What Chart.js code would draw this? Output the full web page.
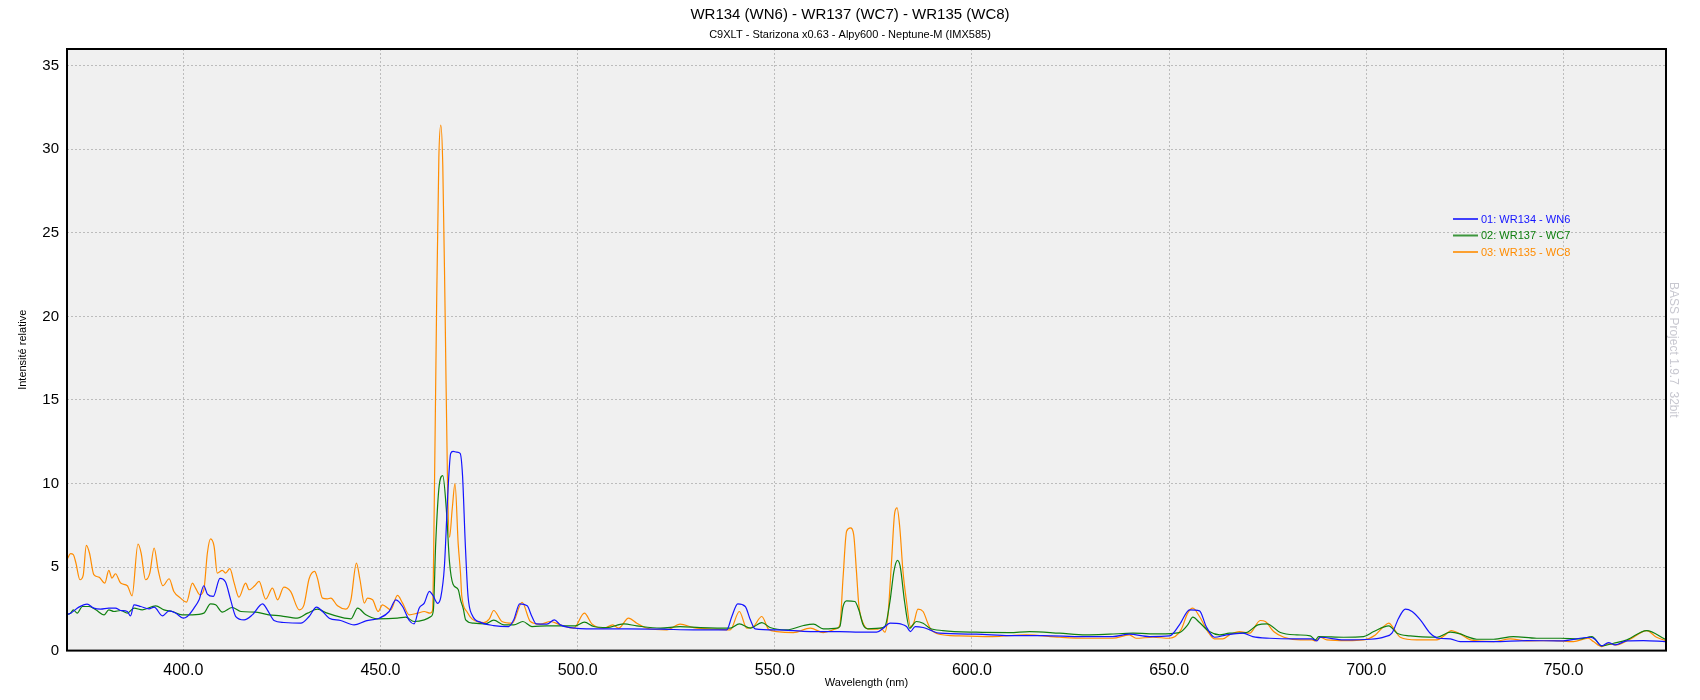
<!DOCTYPE html>
<html lang="fr">
<head>
<meta charset="UTF-8">
<title>WR134 - WR137 - WR135</title>
<script src="https://cdn.jsdelivr.net/npm/chart.js"></script>
<style>
  body { margin: 0; background: #ffffff; }
  #wrap { width: 1700px; height: 700px; }
</style>
</head>
<body>
<div id="wrap"><canvas id="spectre" width="1700" height="700"></canvas></div>
<script>
// --- data ---
const chartTitle = 'WR134 (WN6) - WR137 (WC7) - WR135 (WC8)';
const chartSubtitle = 'C9XLT - Starizona x0.63 - Alpy600 - Neptune-M (IMX585)';
const watermark = 'BASS Project 1.9.7  32bit';
const seriesNames = ['01: WR134 - WN6', '02: WR137 - WC7', '03: WR135 - WC8'];
const xTickValues = [400, 450, 500, 550, 600, 650, 700, 750];
const yTickValues = [0, 5, 10, 15, 20, 25, 30, 35];

// WR134 - WN6 (blue)
const wn6Nm = [370.0, 371.4, 373.5, 375.6, 377.3, 379.0, 381.1, 382.8, 384.1, 385.8, 386.6, 387.5, 389.2, 391.3, 392.6, 394.7, 396.4, 398.1,
  400.0, 401.0, 402.7, 404.0, 405.2, 406.1, 407.6, 409.3, 410.7, 412.0, 413.3, 415.4, 417.5, 420.1, 421.3, 423.0, 425.5, 429.8,
  431.9, 433.8, 435.3, 437.0, 439.9, 443.3, 446.3, 449.7, 452.2, 453.9, 455.6, 457.3, 458.5, 459.8, 461.1, 462.4, 463.3, 464.5,
  465.3, 466.2, 467.1, 467.8, 468.4, 469.3, 470.2, 470.8, 471.5, 472.2, 473.3, 475.4, 478.7, 482.5, 483.8, 485.3, 487.2, 488.4,
  489.5, 492.2, 494.1, 495.6, 498.1, 504.1, 512.5, 521.0, 529.4, 537.8, 539.1, 540.6, 542.5, 543.8, 545.0, 550.5, 559.0, 566.5,
  571.5, 575.8, 577.5, 579.2, 582.1, 583.4, 584.4, 585.6, 587.6, 589.3, 591.7, 601.0, 609.5, 617.9, 628.1, 635.7, 639.9, 645.0,
  650.1, 652.6, 655.2, 657.7, 659.4, 661.5, 664.5, 668.7, 671.2, 675.5, 681.6, 686.2, 687.5, 688.3, 694.3, 701.0, 704.8, 706.5,
  708.2, 709.9, 711.6, 713.7, 716.2, 718.3, 721.3, 723.8, 732.3, 740.7, 749.2, 756.8, 758.0, 759.7, 761.4, 763.1, 766.1, 770.3, 775.8];
const wn6Rel = [2.14, 2.24, 2.6, 2.78, 2.54, 2.48, 2.54, 2.54, 2.4, 2.34, 2.08, 2.74, 2.64, 2.5, 2.6, 2.08, 2.38, 2.24,
  1.94, 2.04, 2.54, 3.04, 3.88, 3.38, 3.24, 4.32, 4.1, 3.04, 2.04, 1.84, 2.14, 2.8, 2.44, 1.8, 1.68, 1.64,
  2.04, 2.6, 2.34, 1.94, 1.8, 1.54, 1.78, 1.94, 2.34, 3.04, 2.64, 1.8, 1.6, 2.54, 2.84, 3.55, 3.3, 2.83,
  3.2, 5.0, 9.5, 11.8, 11.92, 11.88, 11.8, 10.5, 6.4, 3.25, 2.1, 1.69, 1.5, 1.44, 1.84, 2.8, 2.68, 2.04,
  1.6, 1.58, 1.84, 1.54, 1.38, 1.3, 1.3, 1.28, 1.24, 1.24, 2.04, 2.8, 2.64, 1.84, 1.3, 1.24, 1.14, 1.14,
  1.1, 1.1, 1.34, 1.64, 1.58, 1.44, 1.14, 1.44, 1.38, 1.24, 1.04, 0.98, 0.9, 0.9, 0.84, 0.84, 0.98, 0.84,
  0.88, 1.54, 2.44, 2.38, 1.44, 0.8, 0.94, 1.04, 0.84, 0.74, 0.7, 0.7, 0.58, 0.8, 0.64, 0.68, 0.84, 1.04,
  1.94, 2.48, 2.34, 1.84, 1.04, 0.74, 0.7, 0.54, 0.54, 0.6, 0.58, 0.8, 0.68, 0.28, 0.48, 0.34, 0.58, 0.6, 0.54];

// WR137 - WC7 (green)
const wc7Nm = [370.0, 371.4, 372.1, 373.1, 374.4, 376.1, 377.8, 379.9, 381.1, 382.4, 384.1, 385.8, 387.5, 389.6, 393.0, 395.1, 397.2, 399.7,
  402.3, 405.2, 406.9, 408.2, 409.9, 412.4, 414.6, 418.4, 421.7, 424.7, 428.9, 431.5, 434.0, 436.5, 439.9, 442.5, 444.2, 446.3,
  449.2, 454.3, 456.4, 458.5, 461.1, 462.8, 463.4, 464.0, 464.9, 465.8, 466.7, 467.5, 468.4, 469.7, 470.3, 471.0, 471.6, 473.6,
  476.6, 478.7, 481.3, 483.8, 486.1, 488.4, 492.2, 499.4, 501.7, 504.1, 507.4, 511.7, 515.0, 521.0, 526.0, 531.1, 538.7, 541.0,
  543.8, 546.7, 548.8, 553.0, 557.3, 559.8, 562.3, 565.7, 566.5, 567.3, 568.2, 570.3, 571.3, 572.4, 573.6, 576.6, 577.9, 579.2,
  580.2, 581.1, 581.8, 582.9, 584.2, 585.9, 587.6, 589.3, 592.6, 601.0, 609.5, 614.6, 622.2, 628.9, 634.9, 640.8, 647.5, 652.6,
  654.7, 656.0, 657.7, 660.2, 662.8, 665.3, 669.5, 672.5, 674.8, 678.2, 682.4, 685.8, 687.1, 687.9, 694.3, 699.3, 701.9, 705.7,
  707.8, 711.1, 717.9, 721.3, 723.8, 725.5, 728.0, 732.3, 737.3, 743.2, 749.2, 754.2, 757.2, 759.7, 762.7, 766.1, 771.1, 775.8];
const wc7Rel = [2.14, 2.24, 2.44, 2.24, 2.64, 2.64, 2.44, 2.14, 2.44, 2.34, 2.4, 2.24, 2.54, 2.44, 2.68, 2.44, 2.34, 2.14,
  2.14, 2.24, 2.8, 2.74, 2.3, 2.58, 2.34, 2.3, 2.14, 2.08, 1.94, 2.24, 2.48, 2.24, 2.0, 1.9, 2.54, 2.14,
  1.9, 1.94, 2.0, 1.74, 1.84, 2.04, 2.4, 6.4, 9.9, 10.47, 8.45, 5.3, 3.97, 3.66, 3.04, 2.5, 1.84, 1.64,
  1.6, 1.82, 1.54, 1.54, 1.74, 1.44, 1.48, 1.48, 1.7, 1.44, 1.38, 1.6, 1.48, 1.34, 1.44, 1.38, 1.34, 1.6,
  1.34, 1.68, 1.38, 1.24, 1.5, 1.58, 1.3, 1.34, 1.44, 2.64, 2.98, 2.94, 2.44, 1.54, 1.3, 1.34, 1.44, 2.94,
  4.74, 5.4, 5.04, 2.94, 1.34, 1.74, 1.64, 1.34, 1.2, 1.1, 1.08, 1.14, 1.04, 0.94, 0.98, 1.04, 1.0, 1.08,
  1.54, 2.0, 1.68, 1.14, 0.94, 1.04, 1.08, 1.54, 1.6, 1.08, 0.94, 0.88, 0.64, 0.84, 0.8, 0.84, 1.14, 1.48,
  1.04, 0.88, 0.8, 1.1, 1.0, 0.84, 0.68, 0.68, 0.84, 0.74, 0.74, 0.7, 0.84, 0.28, 0.44, 0.64, 1.2, 0.68];

// WR135 - WC8 (orange)
const wc8Nm = [370.0, 370.6, 371.4, 372.1, 372.7, 373.8, 374.6, 375.4, 376.2, 377.3, 378.6, 380.1, 381.1, 381.9, 382.8, 384.1, 385.8, 387.0,
  388.5, 389.3, 390.4, 391.5, 392.6, 393.6, 394.8, 396.4, 397.6, 399.3, 400.8, 402.3, 403.1, 404.2, 405.2, 406.1, 406.9, 407.8,
  408.6, 409.9, 410.7, 411.8, 412.9, 414.1, 415.8, 416.7, 418.1, 419.2, 420.9, 422.6, 423.9, 425.5, 427.2, 429.4, 430.6, 431.9,
  433.3, 434.0, 435.3, 436.5, 437.4, 439.1, 441.2, 442.5, 443.9, 444.8, 445.9, 446.7, 448.0, 449.4, 450.5, 452.6, 454.3, 455.6,
  457.3, 459.4, 461.1, 462.6, 463.2, 463.6, 464.2, 464.8, 465.3, 465.8, 466.4, 467.0, 467.5, 468.2, 468.9, 469.7, 470.3, 470.6,
  472.0, 473.2, 475.0, 476.2, 477.6, 478.7, 480.8, 483.4, 485.9, 488.0, 490.5, 493.1, 495.6, 499.0, 501.7, 503.6, 506.6, 508.9,
  510.4, 512.9, 515.0, 517.6, 522.6, 526.0, 529.4, 534.5, 538.7, 541.0, 542.9, 544.6, 546.7, 548.4, 550.5, 554.7, 559.0, 562.3,
  565.5, 566.5, 567.3, 568.2, 569.2, 570.0, 570.7, 571.3, 572.4, 573.6, 575.8, 577.0, 577.9, 578.7, 579.6, 580.4, 581.0, 581.7,
  582.5, 583.4, 584.4, 585.2, 586.3, 587.6, 588.8, 589.5, 591.7, 596.8, 605.2, 613.7, 622.2, 628.9, 635.7, 639.9, 641.6, 645.9,
  650.1, 653.0, 654.7, 656.0, 657.7, 659.8, 661.5, 663.6, 665.3, 667.8, 670.4, 673.1, 674.4, 676.5, 679.1, 683.3, 686.2, 687.1,
  688.3, 690.0, 695.1, 699.3, 702.3, 704.4, 705.7, 706.9, 708.6, 712.8, 717.9, 720.0, 721.5, 723.8, 726.4, 732.3, 736.5, 740.7,
  747.5, 752.5, 756.3, 757.6, 759.7, 761.4, 763.5, 766.9, 771.1, 773.6, 775.8];
const wc8Rel = [5.34, 5.5, 5.8, 5.74, 5.3, 4.24, 4.5, 6.3, 5.84, 4.54, 4.4, 4.04, 4.8, 4.34, 4.6, 4.04, 3.88, 3.28,
  6.38, 5.84, 4.24, 4.64, 6.14, 4.84, 3.88, 4.3, 3.54, 3.14, 2.9, 4.04, 3.74, 3.34, 3.64, 5.84, 6.68, 6.24,
  4.64, 4.8, 4.64, 4.9, 4.04, 3.2, 4.04, 3.64, 3.88, 4.14, 3.08, 3.74, 3.04, 3.8, 3.54, 2.44, 2.74, 4.3,
  4.74, 4.34, 3.14, 3.1, 3.14, 2.68, 2.48, 3.04, 5.24, 4.24, 2.84, 3.14, 3.04, 2.34, 2.74, 2.44, 3.3, 2.84,
  2.14, 2.24, 2.34, 2.24, 2.4, 8.0, 20.0, 29.5, 31.44, 29.0, 20.0, 10.0, 6.78, 8.5, 10.0, 6.4, 4.6, 3.3,
  2.3, 1.9, 1.7, 1.68, 1.9, 2.4, 1.74, 1.64, 2.88, 1.74, 1.58, 1.74, 1.54, 1.34, 2.24, 1.6, 1.34, 1.54,
  1.34, 1.94, 1.64, 1.34, 1.24, 1.58, 1.38, 1.28, 1.24, 2.34, 1.34, 1.44, 2.04, 1.28, 1.14, 1.08, 1.34, 1.08,
  1.3, 1.54, 4.34, 7.14, 7.34, 6.94, 4.74, 2.74, 1.64, 1.3, 1.28, 1.34, 1.1, 2.14, 5.34, 8.24, 8.54, 7.34,
  4.74, 2.94, 1.44, 1.64, 2.48, 2.34, 1.64, 1.3, 0.98, 0.88, 0.84, 0.94, 0.8, 0.74, 0.74, 0.94, 0.74, 0.8,
  0.74, 1.24, 2.24, 2.54, 2.04, 1.14, 0.7, 0.7, 0.94, 1.14, 1.04, 1.8, 1.74, 1.14, 0.8, 0.64, 0.64, 0.58,
  0.8, 0.64, 0.6, 0.64, 0.94, 1.44, 1.64, 1.34, 0.8, 0.64, 0.64, 0.94, 1.2, 1.0, 0.64, 0.54, 0.7, 0.58,
  0.6, 0.54, 0.74, 0.54, 0.24, 0.4, 0.34, 0.68, 1.2, 0.8, 0.6];

const seriesColors = ['#1414ff', '#108010', '#ff8c00'];
const fontFamily = '"Liberation Sans", Arial, sans-serif';

function toPoints(xs, ys) {
  return xs.map((x, i) => ({ x: x, y: ys[i] }));
}

// background, frame, titles, legend, watermark
const bassDecor = {
  id: 'bassDecor',
  beforeDraw(chart) {
    const { ctx, chartArea: a } = chart;
    ctx.save();
    ctx.fillStyle = '#ffffff';
    ctx.fillRect(0, 0, chart.width, chart.height);
    ctx.fillStyle = '#f0f0f0';
    ctx.fillRect(a.left, a.top, a.right - a.left, a.bottom - a.top);
    ctx.restore();
  },
  afterDraw(chart) {
    const { ctx, chartArea: a } = chart;
    ctx.save();
    ctx.strokeStyle = '#000000';
    ctx.lineWidth = 2;
    ctx.strokeRect(a.left, a.top, a.right - a.left, a.bottom - a.top);

    ctx.fillStyle = '#000000';
    ctx.textAlign = 'center';
    ctx.textBaseline = 'middle';
    ctx.font = '15px ' + fontFamily;
    ctx.fillText(chartTitle, chart.width / 2, 15);
    ctx.font = '11px ' + fontFamily;
    ctx.fillText(chartSubtitle, chart.width / 2, 35);

    // legend inside the plot
    ctx.textAlign = 'left';
    ctx.font = '11px ' + fontFamily;
    seriesNames.forEach((name, i) => {
      const y = 219 + i * 16.5;
      ctx.strokeStyle = seriesColors[i];
      ctx.globalAlpha = 0.8;
      ctx.lineWidth = 2;
      ctx.beginPath();
      ctx.moveTo(a.right - 213, y);
      ctx.lineTo(a.right - 188, y);
      ctx.stroke();
      ctx.globalAlpha = 1;
      ctx.fillStyle = seriesColors[i];
      ctx.fillText(name, a.right - 185, y + 0.5);
    });

    // watermark
    ctx.translate(a.right + 7, (a.top + a.bottom) / 2);
    ctx.rotate(Math.PI / 2);
    ctx.fillStyle = '#c8c8d0';
    ctx.textAlign = 'center';
    ctx.font = '12px ' + fontFamily;
    ctx.fillText(watermark, 0, 0);
    ctx.restore();
  }
};

const ctx = document.getElementById('spectre').getContext('2d');
new Chart(ctx, {
  type: 'line',
  data: {
    datasets: [
      { label: seriesNames[0], data: toPoints(wn6Nm, wn6Rel), borderColor: seriesColors[0] },
      { label: seriesNames[1], data: toPoints(wc7Nm, wc7Rel), borderColor: seriesColors[1] },
      { label: seriesNames[2], data: toPoints(wc8Nm, wc8Rel), borderColor: seriesColors[2] }
    ]
  },
  options: {
    responsive: false,
    animation: false,
    layout: { padding: { top: 49, right: 34, left: 0, bottom: 0 } },
    elements: {
      point: { radius: 0 },
      line: { borderWidth: 1.2, cubicInterpolationMode: 'monotone', fill: false }
    },
    plugins: {
      legend: { display: false },
      tooltip: { enabled: false }
    },
    scales: {
      x: {
        type: 'linear',
        min: 370.5,
        max: 776,
        afterFit: (s) => { s.height = 49.4; },
        afterBuildTicks: (s) => { s.ticks = xTickValues.map(v => ({ value: v })); },
        grid: { color: '#bcbcbc', drawTicks: false },
        border: { display: false, dash: [2, 2] },
        ticks: {
          color: '#000000',
          padding: 10,
          maxRotation: 0,
          font: { family: fontFamily, size: 16 },
          callback: (v) => Number(v).toFixed(1)
        },
        title: {
          display: true,
          text: 'Wavelength (nm)',
          color: '#000000',
          font: { family: fontFamily, size: 11 },
          padding: { top: 0, bottom: 10.4 }
        }
      },
      y: {
        type: 'linear',
        min: 0,
        max: 36,
        afterFit: (s) => { s.width = 67; },
        afterBuildTicks: (s) => { s.ticks = yTickValues.map(v => ({ value: v })); },
        grid: { color: '#bcbcbc', drawTicks: false },
        border: { display: false, dash: [2, 2] },
        ticks: {
          color: '#000000',
          padding: 8,
          font: { family: fontFamily, size: 15 }
        },
        title: {
          display: true,
          text: 'Intensité relative',
          color: '#000000',
          font: { family: fontFamily, size: 11 },
          padding: { top: 16.5, bottom: 0 }
        }
      }
    }
  },
  plugins: [bassDecor]
});
</script>
</body>
</html>
